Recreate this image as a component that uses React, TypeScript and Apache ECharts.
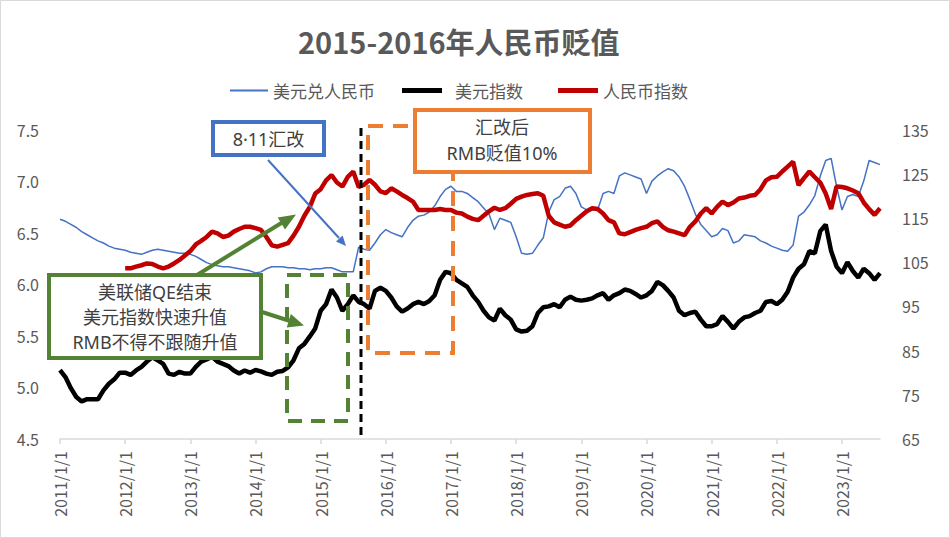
import React, { useEffect, useRef } from "react";
import * as echarts from "echarts";

// 月度数据，2011-01 ~ 2023-08
const startYear = 2011;
const monthCount = 152;

// 美元兑人民币（左轴）
const usdCny = [
  6.63, 6.61, 6.58, 6.55, 6.51, 6.48, 6.45, 6.42, 6.4, 6.37, 6.35, 6.34,
  6.33, 6.31, 6.3, 6.29, 6.31, 6.33, 6.34, 6.33, 6.32, 6.31, 6.3, 6.3,
  6.29, 6.27, 6.24, 6.21, 6.19, 6.18, 6.17, 6.17, 6.16, 6.15, 6.14, 6.13,
  6.11, 6.12, 6.15, 6.17, 6.17, 6.17, 6.16, 6.16, 6.15, 6.15, 6.14, 6.15,
  6.15, 6.16, 6.16, 6.14, 6.12, 6.12, 6.12, 6.36, 6.34, 6.33, 6.4, 6.48,
  6.53, 6.5, 6.48, 6.46, 6.55, 6.62, 6.66, 6.67, 6.7, 6.76, 6.85, 6.92,
  6.95, 6.9, 6.9, 6.88, 6.84, 6.8, 6.74, 6.68, 6.53, 6.64, 6.62, 6.6,
  6.46, 6.3, 6.29, 6.3, 6.38, 6.45, 6.7, 6.82, 6.85, 6.93, 6.95, 6.88,
  6.75, 6.72, 6.72, 6.72, 6.88, 6.9, 6.88, 7.05, 7.08, 7.06, 7.04, 7.02,
  6.88, 7.0, 7.05, 7.09, 7.12, 7.1, 7.04, 6.95, 6.82, 6.68, 6.58, 6.52,
  6.46, 6.48, 6.54, 6.52, 6.4, 6.42, 6.48, 6.47, 6.46, 6.42, 6.4, 6.37,
  6.35, 6.33, 6.32, 6.38, 6.66, 6.7, 6.77, 6.86, 7.05, 7.2, 7.22, 6.95,
  6.72, 6.85, 6.87, 6.85, 7.0, 7.2, 7.18, 7.16,
];

// 美元指数（右轴）
const dollarIndex = [
  80.6, 79.0, 76.5, 74.5, 73.5, 74.0, 74.0, 74.0, 76.0, 77.5, 78.5, 80.0,
  80.0, 79.5, 80.5, 81.3, 82.5, 83.5, 82.8, 82.0, 79.8, 79.5, 80.2, 79.8,
  79.8, 81.3, 82.5, 83.0, 83.6, 82.5, 82.0, 81.5, 80.5, 79.8, 80.5, 80.0,
  80.6, 80.3, 79.8, 79.5, 80.2, 80.4, 81.2, 82.8, 85.5, 86.5, 88.2, 90.0,
  94.0, 95.5, 98.8, 97.0, 94.0, 95.5, 97.5, 96.0, 95.5, 94.5, 98.5, 99.2,
  98.5, 97.0, 95.0, 93.8, 94.5, 95.5, 96.0, 95.5, 96.2, 97.5, 101.0, 102.8,
  102.5, 101.0, 100.2, 99.4, 97.5, 96.0, 94.0, 92.5, 91.8, 94.5, 93.0, 92.0,
  89.8, 89.3, 89.5, 90.5, 93.5, 94.8, 95.0, 95.5, 94.8, 96.5, 97.2, 96.5,
  96.3, 96.5, 96.8, 97.5, 98.0, 96.5, 97.5, 98.0, 98.8, 98.5, 97.8, 97.0,
  97.5, 98.5, 100.5, 99.8, 98.5, 97.0, 94.0, 93.0, 93.5, 93.8, 92.0, 90.5,
  90.5, 91.0, 92.8, 91.5, 90.0, 91.5, 92.5, 92.8, 93.5, 94.0, 96.0, 96.2,
  95.5, 96.5, 98.3, 101.5, 103.5, 104.5, 107.5, 107.0, 112.0, 113.5, 107.5, 104.0,
  102.5, 105.0, 103.0, 101.5, 103.5, 102.5, 101.0, 102.5,
];

// 人民币指数（右轴），从 2012-01 开始
const rmbIndexStart = 12;
const rmbIndex = [
  103.6, 103.6, 104.0, 104.3, 104.7, 104.6, 104.0, 103.6, 104.0, 104.7, 105.5, 106.5,
  107.5, 109.0, 109.8, 110.7, 111.9, 111.5, 110.7, 111.0, 111.9, 112.5, 113.0, 113.0,
  112.7, 112.3, 110.7, 108.8, 108.5, 108.9, 109.3, 111.0, 113.0, 115.5, 117.5, 120.5,
  121.5, 123.5, 124.7, 123.0, 122.1, 124.3, 125.5, 122.0, 122.5, 123.6, 122.5, 121.0,
  120.6, 121.7, 121.0, 120.2, 119.5, 118.7, 116.8, 116.8, 116.8, 116.8, 117.0, 116.8,
  116.8, 116.2, 116.0, 115.3, 114.8, 114.5, 115.5, 116.5, 117.3, 116.8, 117.2, 118.2,
  119.3, 119.8, 120.2, 120.4, 120.6, 120.0, 115.5, 114.0, 113.5, 113.0, 113.3, 114.5,
  115.5, 116.5, 117.2, 117.0, 116.0, 114.5, 114.0, 111.5, 111.3, 111.8, 112.3, 112.7,
  113.0, 113.8, 114.2, 113.0, 112.2, 111.9, 111.5, 111.1, 113.0, 114.2, 116.0, 117.2,
  116.0, 117.5, 118.7, 117.9, 118.5, 119.4, 119.6, 120.0, 120.2, 121.5, 123.5, 124.2,
  124.3, 125.5, 126.6, 127.7, 122.4, 124.0, 125.5, 124.2, 123.0, 120.5, 117.0, 122.1,
  122.0, 121.7, 121.2, 120.6, 118.5, 117.0, 115.7, 117.2,
];

const FONT = "'Noto Sans CJK SC', 'Noto Sans', sans-serif";
const LATIN_FONT = "'Noto Sans', 'Noto Sans CJK SC', sans-serif";
const GREY = "#595959";
const BLUE = "#4472C4";
const GREEN = "#548235";
const ORANGE = "#ED7D31";

const months: string[] = [];
for (let i = 0; i < monthCount; i++) {
  const y = startYear + Math.floor(i / 12);
  const m = (i % 12) + 1;
  months.push(`${y}-${m < 10 ? "0" + m : m}`);
}
const isJan = (_: number, v: string) => v.endsWith("-01");

const App: React.FC = () => {
  const chartRef = useRef<HTMLDivElement>(null);

  useEffect(() => {
    if (!chartRef.current) return;
    const chart = echarts.init(chartRef.current, undefined, { renderer: "svg" });

    const legendText = { color: GREY, fontSize: 17, fontFamily: FONT };
    const txt = (text: string, x: number, y: number, size = 18) => ({
      type: "text",
      x,
      y,
      z: 102,
      style: { text, fill: "#404040", fontSize: size, fontFamily: LATIN_FONT, align: "center", verticalAlign: "middle" },
    });

    const option = {
      animation: false,
      backgroundColor: "#fff",
      title: {
        text: "2015-2016年人民币贬值",
        left: 293,
        top: 21,
        textStyle: { color: GREY, fontSize: 29, fontWeight: "bold", fontFamily: FONT },
      },
      legend: [
        { data: ["美元兑人民币"], left: 230, top: 82, padding: 0, icon: "rect", itemWidth: 38, itemHeight: 2, textStyle: legendText },
        { data: ["美元指数"], left: 402, top: 82, padding: 0, icon: "rect", itemWidth: 40, itemHeight: 5, textStyle: { ...legendText, padding: [0, 0, 0, 8] } },
        { data: ["人民币指数"], left: 558, top: 82, padding: 0, icon: "rect", itemWidth: 40, itemHeight: 5, textStyle: legendText },
      ],
      grid: { left: 60, right: 70, top: 129.5, bottom: 99, containLabel: false },
      xAxis: {
        type: "category",
        data: months,
        boundaryGap: false,
        axisLine: { lineStyle: { color: "#D9D9D9", width: 1.5 } },
        axisTick: { interval: isJan, length: 5, lineStyle: { color: "#D9D9D9", width: 1.5 } },
        axisLabel: {
          interval: isJan,
          rotate: 90,
          margin: 12,
          color: GREY,
          fontSize: 16,
          fontFamily: FONT,
          formatter: (v: string) => `${v.slice(0, 4)}/${parseInt(v.slice(5), 10)}/1`,
        },
        splitLine: { show: false },
      },
      yAxis: [
        {
          type: "value",
          min: 4.5,
          max: 7.5,
          interval: 0.5,
          axisLine: { show: false },
          axisTick: { show: false },
          splitLine: { show: false },
          axisLabel: { color: GREY, fontSize: 16, fontFamily: FONT, margin: 21, formatter: (v: number) => v.toFixed(1) },
        },
        {
          type: "value",
          min: 65,
          max: 135,
          interval: 10,
          axisLine: { show: false },
          axisTick: { show: false },
          splitLine: { show: false },
          axisLabel: { color: GREY, fontSize: 16, fontFamily: FONT, margin: 22 },
        },
      ],
      series: [
        {
          name: "美元兑人民币",
          type: "line",
          yAxisIndex: 0,
          showSymbol: false,
          data: usdCny,
          itemStyle: { color: BLUE },
          lineStyle: { color: BLUE, width: 1.5 },
        },
        {
          name: "美元指数",
          type: "line",
          yAxisIndex: 1,
          showSymbol: false,
          data: dollarIndex,
          itemStyle: { color: "#000" },
          lineStyle: { color: "#000", width: 4.5 },
        },
        {
          name: "人民币指数",
          type: "line",
          yAxisIndex: 1,
          showSymbol: false,
          data: [...new Array(rmbIndexStart).fill(null), ...rmbIndex],
          itemStyle: { color: "#C00000" },
          lineStyle: { color: "#C00000", width: 4.5 },
        },
      ],
      graphic: [
        // 外框
        { type: "rect", z: 100, shape: { x: 0.5, y: 0.5, width: 949, height: 537 }, style: { fill: "none", stroke: "#D9D9D9", lineWidth: 1 } },
        // 8·11 竖虚线
        { type: "line", z: 100, shape: { x1: 361, y1: 128, x2: 361, y2: 437 }, style: { stroke: "#000", lineWidth: 3, lineDash: [8, 5] } },
        // 绿色虚线框
        { type: "rect", z: 100, shape: { x: 287, y: 275, width: 61, height: 146 }, style: { fill: "none", stroke: GREEN, lineWidth: 4, lineDash: [14, 9] } },
        // 橙色虚线框
        { type: "rect", z: 100, shape: { x: 368, y: 126, width: 85, height: 227 }, style: { fill: "none", stroke: ORANGE, lineWidth: 4, lineDash: [15, 10] } },
        // 蓝色箭头
        { type: "line", z: 101, shape: { x1: 268, y1: 160, x2: 339, y2: 238 }, style: { stroke: BLUE, lineWidth: 2 } },
        { type: "polygon", z: 101, shape: { points: [[346, 246], [336, 241.6], [342.6, 235.6]] }, style: { fill: BLUE } },
        // 绿色箭头
        { type: "line", z: 101, shape: { x1: 197, y1: 275, x2: 283, y2: 222 }, style: { stroke: GREEN, lineWidth: 4 } },
        { type: "polygon", z: 101, shape: { points: [[296, 214.5], [285, 229.4], [277.7, 217.4]] }, style: { fill: GREEN } },
        { type: "line", z: 101, shape: { x1: 262, y1: 312, x2: 290, y2: 321 }, style: { stroke: GREEN, lineWidth: 4 } },
        { type: "polygon", z: 101, shape: { points: [[304, 325.5], [286.7, 327.4], [290.9, 314]] }, style: { fill: GREEN } },
        // 文本框
        { type: "rect", z: 101, shape: { x: 213, y: 122, width: 111, height: 33 }, style: { fill: "#fff", stroke: BLUE, lineWidth: 4 } },
        txt("8·11汇改", 268.5, 138.5),
        { type: "rect", z: 101, shape: { x: 49, y: 275, width: 212, height: 83 }, style: { fill: "#fff", stroke: GREEN, lineWidth: 4 } },
        txt("美联储QE结束", 155, 292),
        txt("美元指数快速升值", 155, 317),
        txt("RMB不得不跟随升值", 155, 342),
        { type: "rect", z: 101, shape: { x: 415, y: 110, width: 175, height: 62 }, style: { fill: "#fff", stroke: ORANGE, lineWidth: 4 } },
        txt("汇改后", 502, 127),
        txt("RMB贬值10%", 502, 153),
      ],
    };

    chart.setOption(option as any);

    return () => {
      chart.dispose();
    };
  }, []);

  return (
    <div style={{ position: "absolute", left: 0, top: 0, width: 950, height: 538 }}>
      <div ref={chartRef} style={{ width: 950, height: 538 }} />
    </div>
  );
};

export default App;
